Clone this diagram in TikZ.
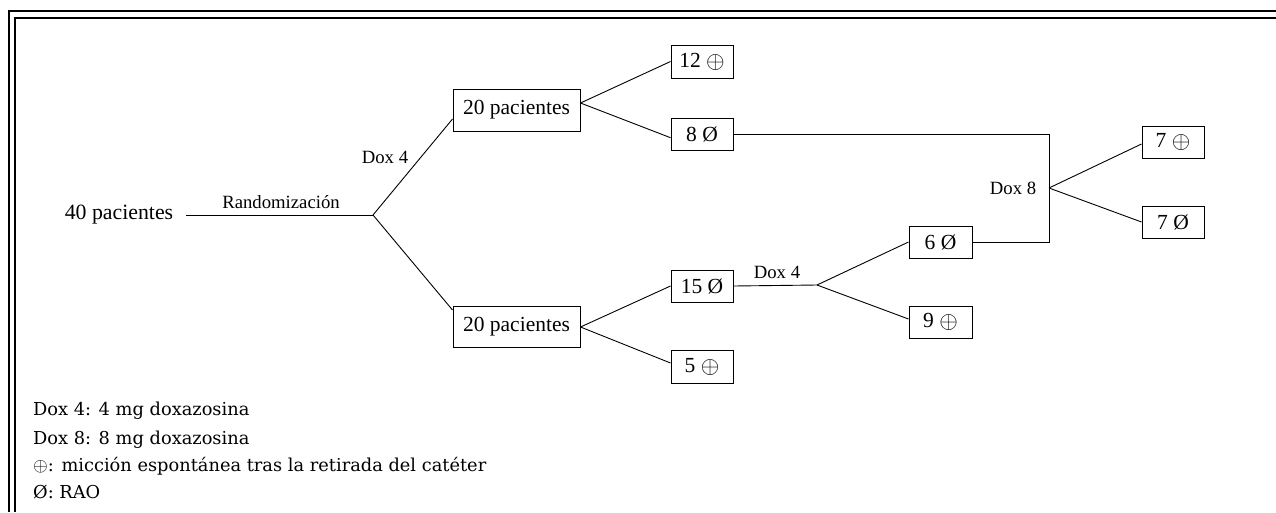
\documentclass[tikz,border=0pt]{standalone}
\usepackage{fontspec}
\setmainfont{Liberation Serif}
\newfontfamily\legfont{DejaVu Serif}
\newcommand{\opl}{\raisebox{-0.1ex}{\scalebox{1.15}{$\oplus$}}}
\newcommand{\legopl}{\scalebox{1.1}{$\oplus$}}
\begin{document}
\begin{tikzpicture}[x=1pt,y=-1pt,
  box/.style={draw,line width=1pt,inner sep=0pt,font=\fontsize{21.5}{24}\selectfont},
  lbl/.style={inner sep=0pt,font=\fontsize{18.7}{22}\selectfont},
  leg/.style={anchor=west,inner sep=0pt,font=\legfont\fontsize{17.8}{20}\selectfont},
  conn/.style={line width=0.9pt}]
\useasboundingbox (0,0) rectangle (1276,512);
% frame
\draw[line width=2pt] (9,512) -- (9,11) -- (1276,11);
\draw[line width=2pt] (14.5,512) -- (14.5,17.5) -- (1276,17.5);
% nodes
\node[inner sep=0pt,font=\fontsize{21.8}{24}\selectfont] (p40) at (119,215) {40 pacientes};
\coordinate (s40) at (186,215);
\coordinate (j1) at (373,215);
\coordinate (j2) at (817,285);
\coordinate (j3) at (1049,188);
\node[box,minimum width=127,minimum height=42] (up20) at (516.5,110) {20 pacientes};
\node[box,minimum width=127,minimum height=41] (lo20) at (516.5,327) {20 pacientes};
\node[box,minimum width=62,minimum height=33] (b12) at (702,61.5) {12 \opl};
\node[box,minimum width=62,minimum height=32.5] (b8) at (702,134.7) {8 Ø};
\node[box,minimum width=62,minimum height=32] (b15) at (702,286) {15 Ø};
\node[box,minimum width=62,minimum height=32.5] (b5) at (702,367) {5 \opl};
\node[box,minimum width=63,minimum height=32] (b6) at (940.5,242) {6 Ø};
\node[box,minimum width=63,minimum height=32] (b9) at (940.5,322) {9 \opl};
\node[box,minimum width=62,minimum height=32] (b7p) at (1173,142) {7 \opl};
\node[box,minimum width=62,minimum height=32] (b7o) at (1173,222) {7 Ø};
% labels
\node[lbl] (lrand) at (281,202) {Randomización};
\node[lbl] (ldox1) at (385,157) {Dox 4};
\node[lbl] (ldox2) at (777,272) {Dox 4};
\node[lbl] (ldox8) at (1013,188) {Dox 8};
% connectors
\draw[conn] (s40) -- (j1);
\draw[conn] (j1) -- ([yshift=-9pt]up20.west);
\draw[conn] (j1) -- ([yshift=17pt]lo20.west);
\draw[conn] ([yshift=7pt]up20.east) -- (b12.west);
\draw[conn] ([yshift=7pt]up20.east) -- ([yshift=-3pt]b8.west);
\draw[conn] (lo20.east) -- (b15.west);
\draw[conn] (lo20.east) -- ([yshift=4pt]b5.west);
\draw[conn] (b15.east) -- (j2);
\draw[conn] (j2) -- (b6.west);
\draw[conn] (j2) -- ([yshift=3pt]b9.west);
\draw[conn] (b8.east) -| (j3) |- (b6.east);
\draw[conn] (j3) -- ([yshift=-2pt]b7p.west);
\draw[conn] (j3) -- (b7o.west);
% legend
\node[leg] (lg1) at (33,410.7) {Dox 4: 4 mg doxazosina};
\node[leg] (lg2) at (33,440) {Dox 8: 8 mg doxazosina};
\node[leg] (lg3) at (33,466.7) {\legopl: micción espontánea tras la retirada del catéter};
\node[leg] (lg4) at (33,491.7) {Ø: RAO};
\end{tikzpicture}
\end{document}
